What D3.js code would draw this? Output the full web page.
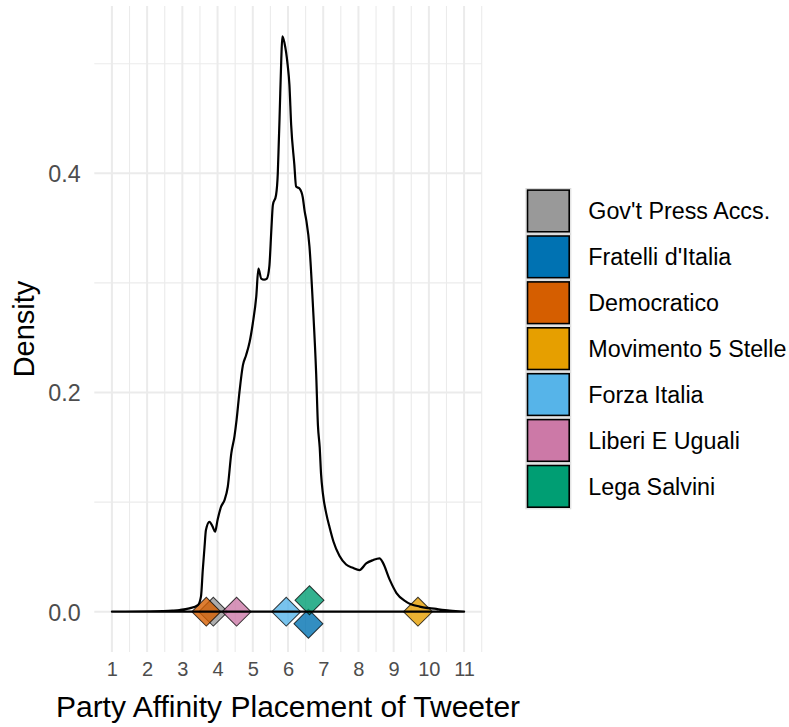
<!DOCTYPE html>
<html>
<head>
<meta charset="utf-8">
<script src="https://cdn.jsdelivr.net/npm/d3@7"></script>
<style>
  html, body { margin: 0; padding: 0; background: #ffffff; }
  svg text { font-family: "Liberation Sans", Arial, Helvetica, sans-serif; }
</style>
</head>
<body>
<svg id="chart" width="789" height="727"></svg>
<script>
// Kernel density of tweeter placement (sampled along the x axis)
const densityX = [1.00, 2.06, 2.72, 2.92, 3.20, 3.44, 3.53, 3.58, 3.63, 3.67,
  3.77, 3.86, 3.93, 4.00, 4.10, 4.20, 4.29, 4.39, 4.48, 4.54,
  4.62, 4.72, 4.81, 4.91, 5.00, 5.10, 5.16, 5.24, 5.32, 5.40,
  5.47, 5.53, 5.57, 5.66, 5.71, 5.74, 5.76, 5.81, 5.84, 5.90,
  5.99, 6.04, 6.09, 6.18, 6.23, 6.33, 6.42, 6.47, 6.52, 6.61,
  6.71, 6.80, 6.85, 6.90, 6.94, 6.99, 7.09, 7.18, 7.29, 7.46,
  7.65, 7.84, 8.03, 8.22, 8.41, 8.60, 8.69, 8.89, 9.08, 9.36,
  9.74, 10.21, 10.59, 11.00];
const densityY = [0.000, 0.0003, 0.001, 0.0015, 0.003, 0.006, 0.014, 0.038, 0.059, 0.0745,
  0.082, 0.0776, 0.073, 0.0837, 0.0958, 0.102, 0.114, 0.1445, 0.160, 0.175,
  0.200, 0.225, 0.234, 0.246, 0.263, 0.288, 0.313, 0.304, 0.303, 0.304,
  0.315, 0.350, 0.371, 0.380, 0.400, 0.430, 0.450, 0.505, 0.525, 0.519,
  0.499, 0.481, 0.444, 0.408, 0.388, 0.386, 0.378, 0.366, 0.357, 0.333,
  0.278, 0.217, 0.170, 0.150, 0.125, 0.108, 0.089, 0.077, 0.064, 0.051,
  0.043, 0.040, 0.038, 0.044, 0.047, 0.0487, 0.045, 0.029, 0.017, 0.009,
  0.0046, 0.0025, 0.001, 0.000];

// Party reference placements
const parties = ["Gov't Press Accs.", "Fratelli d'Italia", "Democratico",
  "Movimento 5 Stelle", "Forza Italia", "Liberi E Uguali", "Lega Salvini"];
const partyX = [3.88, 6.58, 3.68, 9.69, 5.95, 4.54, 6.61];
const partyY = [0.000, -0.011, 0.000, 0.000, 0.000, 0.000, 0.0104];
const partyColors = ["#999999", "#0072B2", "#D55E00", "#E69F00", "#56B4E9", "#CC79A7", "#009E73"];

// Axis ticks
const xTicks = [1, 2, 3, 4, 5, 6, 7, 8, 9, 10, 11];
const xMinor = [1.5, 2.5, 3.5, 4.5, 5.5, 6.5, 7.5, 8.5, 9.5, 10.5, 11.5];
const yTicks = [0.0, 0.2, 0.4];
const yMinor = [0.1, 0.3, 0.5];

const svg = d3.select("#chart");
const panel = { left: 94.3, right: 481.7, top: 6, bottom: 652 };

const x = d3.scaleLinear().domain([0.5, 11.5]).range([panel.left, panel.right]);
const y = d3.scaleLinear().domain([-0.0368, 0.5527]).range([panel.bottom, panel.top]);
const color = d3.scaleOrdinal().domain(parties).range(partyColors);

// Grid
const grid = svg.append("g");
grid.selectAll(".vminor").data(xMinor).join("line")
  .attr("x1", d => x(d)).attr("x2", d => x(d))
  .attr("y1", panel.top).attr("y2", panel.bottom)
  .attr("stroke", "#EBEBEB").attr("stroke-width", 1.1);
grid.selectAll(".hminor").data(yMinor).join("line")
  .attr("y1", d => y(d)).attr("y2", d => y(d))
  .attr("x1", panel.left).attr("x2", panel.right)
  .attr("stroke", "#EBEBEB").attr("stroke-width", 1.1);
grid.selectAll(".vmajor").data(xTicks).join("line")
  .attr("x1", d => x(d)).attr("x2", d => x(d))
  .attr("y1", panel.top).attr("y2", panel.bottom)
  .attr("stroke", "#EBEBEB").attr("stroke-width", 2);
grid.selectAll(".hmajor").data(yTicks).join("line")
  .attr("y1", d => y(d)).attr("y2", d => y(d))
  .attr("x1", panel.left).attr("x2", panel.right)
  .attr("stroke", "#EBEBEB").attr("stroke-width", 2);

// Axes (labels only)
const xAxis = d3.axisBottom(x).tickValues(xTicks).tickSize(0).tickPadding(0).tickFormat(d3.format("d"));
const gx = svg.append("g").attr("transform", `translate(0,${panel.bottom})`).call(xAxis);
gx.select(".domain").remove();
gx.selectAll("text").attr("fill", "#4D4D4D").attr("font-size", "20px")
  .attr("dy", null).attr("y", 24)
  .style("font-family", "'Liberation Sans', Arial, sans-serif");

const yAxis = d3.axisLeft(y).tickValues(yTicks).tickSize(0).tickPadding(0).tickFormat(d3.format(".1f"));
const gy = svg.append("g").attr("transform", `translate(${panel.left - 13.6},0)`).call(yAxis);
gy.select(".domain").remove();
gy.selectAll("text").attr("fill", "#4D4D4D").attr("font-size", "23.3px")
  .attr("x", 0).attr("dy", "0.36em")
  .style("font-family", "'Liberation Sans', Arial, sans-serif");

// Axis titles
svg.append("text")
  .attr("x", (panel.left + panel.right) / 2).attr("y", 717)
  .attr("text-anchor", "middle").attr("font-size", "30px").attr("fill", "#000")
  .text("Party Affinity Placement of Tweeter");
svg.append("text")
  .attr("transform", `translate(33.5,${(panel.top + panel.bottom) / 2}) rotate(-90)`)
  .attr("text-anchor", "middle").attr("font-size", "29px").attr("fill", "#000")
  .text("Density");

// Party markers
const pts = parties.map((p, i) => ({ party: p, x: partyX[i], y: partyY[i] }));
const diamond = d3.symbol().type(d3.symbolSquare).size(420);
svg.append("g").selectAll("path").data(pts).join("path")
  .attr("d", diamond)
  .attr("transform", d => `translate(${x(d.x)},${y(d.y)}) rotate(45)`)
  .attr("fill", d => color(d.party)).attr("fill-opacity", 0.8)
  .attr("stroke", "#000").attr("stroke-opacity", 0.75).attr("stroke-width", 1);

// Density outline
const line = d3.line().x(d => x(d[0])).y(d => y(d[1])).curve(d3.curveMonotoneX);
const dens = densityX.map((v, i) => [v, densityY[i]]);
svg.append("path")
  .attr("d", line(dens) + "Z")
  .attr("fill", "none").attr("stroke", "#000").attr("stroke-width", 2.2)
  .attr("stroke-linejoin", "round");

// Legend
const legend = svg.append("g").attr("transform", "translate(526.7,189.3)");
const step = 45.9, keySize = 43.3;
const items = legend.selectAll("g").data(parties).join("g")
  .attr("transform", (d, i) => `translate(0,${i * step})`);
items.append("rect")
  .attr("x", -0.8).attr("y", -0.8).attr("width", keySize + 1.6).attr("height", keySize + 1.6)
  .attr("fill", "none").attr("stroke", "#D9D9D9").attr("stroke-width", 1);
items.append("rect")
  .attr("x", 0.8).attr("y", 0.8).attr("width", keySize - 1.6).attr("height", keySize - 1.6)
  .attr("fill", d => color(d)).attr("stroke", "#000").attr("stroke-width", 1.6);
items.append("text")
  .attr("x", 61.6).attr("y", keySize / 2).attr("dy", "0.36em")
  .attr("font-size", "23.3px").attr("fill", "#000")
  .text(d => d);
</script>
</body>
</html>
